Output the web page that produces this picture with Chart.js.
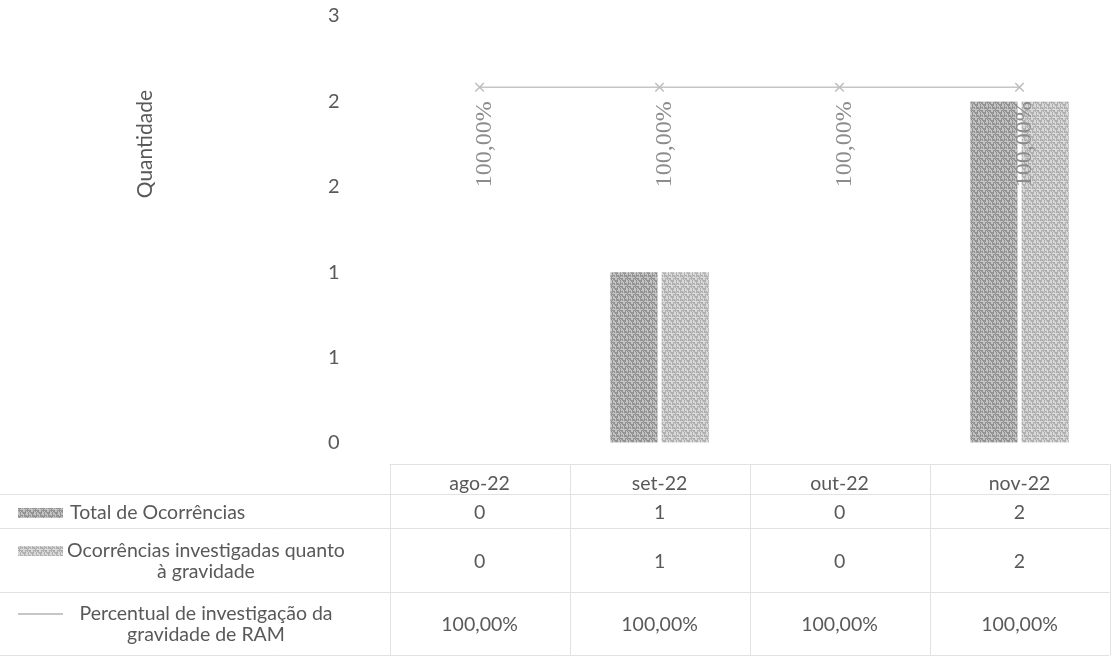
<!DOCTYPE html>
<html>
<head>
<meta charset="utf-8">
<script src="https://cdn.jsdelivr.net/npm/chart.js@4"></script>
<style>
  html, body { margin: 0; padding: 0; background: #ffffff; }
  #c { display: block; }
</style>
</head>
<body>
<canvas id="c" width="1117" height="659"></canvas>
<script>
// ---- data ----
const categories = ['ago-22', 'set-22', 'out-22', 'nov-22'];
const totalOcorrencias = [0, 1, 0, 2];
const investigadas = [0, 1, 0, 2];
const percentual = [1, 1, 1, 1];
const seriesNames = [
  'Total de Ocorrências',
  'Ocorrências investigadas quanto à gravidade',
  'Percentual de investigação da gravidade de RAM'
];
const rowHeaderLines = [
  ['Total de Ocorrências'],
  ['Ocorrências investigadas quanto', 'à gravidade'],
  ['Percentual de investigação da', 'gravidade de RAM']
];
const yAxisTitle = 'Quantidade';

const fmtPct = v => (v * 100).toFixed(2).replace('.', ',') + '%';

// deterministic halftone-like texture
function makePattern(dark, light, threshold) {
  const n = 8;
  const cv = document.createElement('canvas');
  cv.width = n; cv.height = n;
  const g = cv.getContext('2d');
  for (let i = 0; i < n; i++) for (let j = 0; j < n; j++) {
    const h = ((i * 73856093) ^ (j * 19349663) ^ ((i + j) * 83492791)) >>> 0;
    const r = (h % 1000) / 1000;
    g.fillStyle = r < threshold ? dark : light;
    g.fillRect(i, j, 1, 1);
  }
  return g.createPattern(cv, 'repeat');
}
const darkPat = makePattern('#939393', '#c2c2c2', 0.5);
const lightPat = makePattern('#b0b0b0', '#d8d8d8', 0.5);
const lineColor = '#c6c6c6';
const textColor = '#595959';
const gridColor = '#e2e2e2';
const uiFont = 'Lato, "Open Sans", sans-serif';

const extrasPlugin = {
  id: 'extras',
  afterDatasetsDraw(chart) {
    const ctx = chart.ctx;
    const meta = chart.getDatasetMeta(2);
    ctx.save();
    ctx.fillStyle = '#8c8c8c';
    ctx.font = '24px "Liberation Serif", serif';
    meta.data.forEach((pt, i) => {
      ctx.save();
      ctx.translate(pt.x + 5, pt.y + 14);
      ctx.rotate(-Math.PI / 2);
      ctx.textAlign = 'right';
      ctx.textBaseline = 'middle';
      ctx.fillText(fmtPct(percentual[i]), 0, 0);
      ctx.restore();
    });
    ctx.restore();
  },
  afterDraw(chart) {
    const ctx = chart.ctx;
    const area = chart.chartArea;
    const xs = chart.scales.x;
    const b = area.bottom;
    // y axis title
    ctx.save();
    ctx.fillStyle = textColor;
    ctx.font = '21px ' + uiFont;
    ctx.translate(145, area.top + (b - area.top) * 0.3);
    ctx.rotate(-Math.PI / 2);
    ctx.textAlign = 'center';
    ctx.textBaseline = 'middle';
    ctx.fillText(yAxisTitle, 0, 0);
    ctx.restore();

    // data table
    const hdrTop = b + 21, r1 = b + 51, r2 = b + 85, r3 = b + 149, bot = b + 212;
    const step = (xs.getPixelForValue(1) - xs.getPixelForValue(0));
    ctx.save();
    ctx.strokeStyle = gridColor;
    ctx.lineWidth = 1;
    ctx.beginPath();
    ctx.moveTo(area.left, hdrTop + 0.5); ctx.lineTo(area.right, hdrTop + 0.5);
    [r1, r2, r3, bot].forEach(y => { ctx.moveTo(0, y + 0.5); ctx.lineTo(area.right, y + 0.5); });
    for (let i = 0; i <= categories.length; i++) {
      const x = Math.round(xs.getPixelForValue(0) - step / 2 + i * step) + 0.5;
      ctx.moveTo(x, hdrTop); ctx.lineTo(x, bot);
    }
    ctx.stroke();

    ctx.fillStyle = textColor;
    ctx.font = '19.5px ' + uiFont;
    ctx.textAlign = 'center';
    ctx.textBaseline = 'middle';
    categories.forEach((c, i) => {
      const x = xs.getPixelForValue(i);
      ctx.fillText(c, x, hdrTop + 20);
      ctx.fillText(String(totalOcorrencias[i]), x, r1 + 19);
      ctx.fillText(String(investigadas[i]), x, r2 + 34);
      ctx.fillText(fmtPct(percentual[i]), x, r3 + 33);
    });

    // row headers with legend keys
    const rowY = [[r1 + 19], [r2 + 23, r2 + 44], [r3 + 22, r3 + 43]];
    ctx.fillStyle = darkPat; ctx.fillRect(18, rowY[0][0] - 5, 45, 10);
    ctx.fillStyle = lightPat; ctx.fillRect(18, rowY[1][0] - 5, 45, 10);
    ctx.strokeStyle = lineColor; ctx.lineWidth = 2;
    ctx.beginPath(); ctx.moveTo(18, rowY[2][0]); ctx.lineTo(63, rowY[2][0]); ctx.stroke();

    ctx.fillStyle = textColor;
    ctx.textAlign = 'left';
    ctx.fillText(rowHeaderLines[0][0], 70, rowY[0][0]);
    ctx.textAlign = 'center';
    for (let r = 1; r < 3; r++) {
      rowHeaderLines[r].forEach((t, k) => ctx.fillText(t, 206, rowY[r][k]));
    }
    ctx.restore();
  }
};

new Chart(document.getElementById('c'), {
  type: 'bar',
  data: {
    labels: categories,
    datasets: [
      {
        type: 'bar', label: seriesNames[0], data: totalOcorrencias,
        backgroundColor: darkPat, yAxisID: 'y',
        categoryPercentage: 0.57, barPercentage: 0.92, order: 2
      },
      {
        type: 'bar', label: seriesNames[1], data: investigadas,
        backgroundColor: lightPat, yAxisID: 'y',
        categoryPercentage: 0.57, barPercentage: 0.92, order: 2
      },
      {
        type: 'line', label: seriesNames[2], data: percentual,
        yAxisID: 'y2',
        borderColor: lineColor, borderWidth: 1.5,
        pointStyle: 'crossRot', pointRadius: 6, pointBorderColor: '#bdbdbd',
        pointBorderWidth: 1.5, pointBackgroundColor: 'transparent',
        tension: 0, order: 1
      }
    ]
  },
  options: {
    responsive: false,
    animation: false,
    devicePixelRatio: 1,
    layout: { padding: { top: 4, right: 6, bottom: 216, left: 324 } },
    plugins: { legend: { display: false }, tooltip: { enabled: false } },
    scales: {
      x: {
        type: 'category', offset: true,
        grid: { display: false, drawTicks: false },
        border: { display: false },
        ticks: { display: false }
      },
      y: {
        min: 0, max: 2.5,
        grid: { display: true, drawOnChartArea: false, drawTicks: true, tickLength: 46, color: 'rgba(0,0,0,0)' },
        border: { display: false },
        ticks: {
          stepSize: 0.5, padding: 4, color: textColor,
          font: { family: uiFont, size: 20 },
          callback: v => String(Math.round(v))
        }
      },
      y2: { display: false, min: 0, max: 1.2, position: 'right' }
    }
  },
  plugins: [extrasPlugin]
});
</script>
</body>
</html>
